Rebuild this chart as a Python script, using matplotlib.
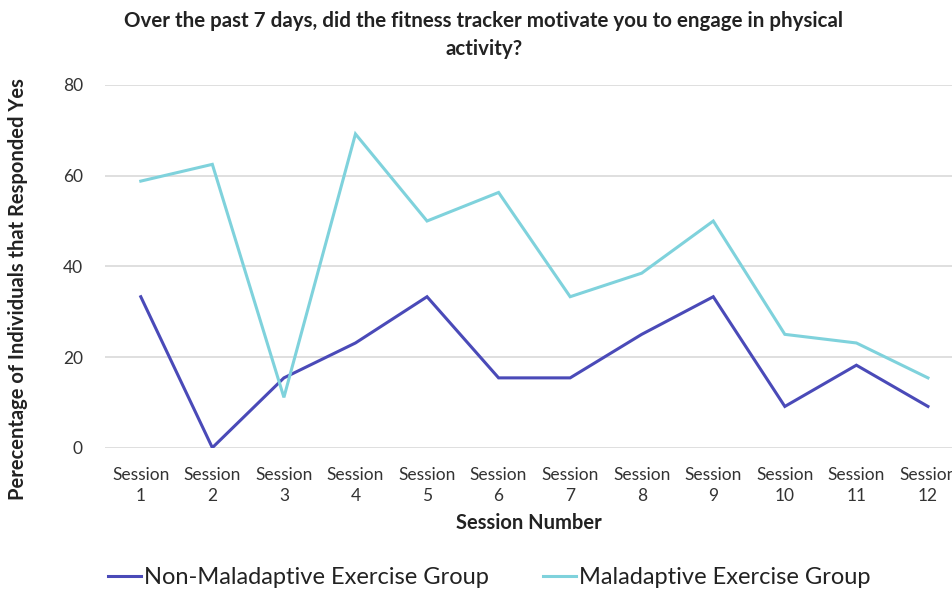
import matplotlib
matplotlib.use("Agg")
import matplotlib.pyplot as plt

sessions = [f"Session\n{i}" for i in range(1, 13)]
non_maladaptive = [33.3, 0, 15.4, 23.1, 33.3, 15.4, 15.4, 25.0, 33.3, 9.1, 18.2, 9.1]
maladaptive = [58.8, 62.5, 11.1, 69.2, 50.0, 56.3, 33.3, 38.5, 50.0, 25.0, 23.1, 15.4]
series_names = ["Non-Maladaptive Exercise Group", "Maladaptive Exercise Group"]
colors = ["#4a4ab8", "#7fd2dc"]

plt.rcParams['font.family'] = ['Lato', 'DejaVu Sans']

W, H = 953, 590
fig = plt.figure(figsize=(W / 100, H / 100), dpi=100)
left, right, top, bottom = 105, 953, 85, 447.7
ax = fig.add_axes([left / W, 1 - bottom / H, (right - left) / W, (bottom - top) / H])

x = list(range(len(sessions)))
l1, = ax.plot(x, non_maladaptive, color=colors[0], lw=2.2, solid_joinstyle='miter')
l2, = ax.plot(x, maladaptive, color=colors[1], lw=2.2, solid_joinstyle='miter')

ax.set_xlim(-0.5, 11.35)
ax.set_ylim(0, 80)
ax.set_yticks([0, 20, 40, 60, 80])
ax.yaxis.grid(True, color="#d9d9d9", lw=1.2)
ax.set_axisbelow(True)
for s in ax.spines.values():
    s.set_visible(False)
ax.tick_params(axis='both', length=0, labelsize=12.5, colors="#333333")
ax.tick_params(axis='y', pad=16)
ax.tick_params(axis='x', pad=14)
ax.set_xticks(x)
ax.set_xticklabels(sessions, linespacing=1.35, fontsize=12.5)

ax.set_xlabel("Session Number", fontsize=14.5, fontweight='bold', color="#222222")
ax.xaxis.set_label_coords(0.5, -(523 - bottom) / (bottom - top), transform=ax.transAxes)
ax.xaxis.label.set_va('center')
ax.set_ylabel("Perecentage of Individuals that Responded Yes", fontsize=14.5, fontweight='bold',
              color="#222222")
ax.yaxis.set_label_coords(-(left - 18) / (right - left), (bottom - 289) / (bottom - top))
ax.yaxis.label.set_va('center')

fig.text(484 / W, 1 - 35 / H, "Over the past 7 days, did the fitness tracker motivate you to engage in physical\nactivity?",
         ha='center', va='center', fontsize=14.8, fontweight='bold', color="#222222", linespacing=1.45)

leg = fig.legend([l1, l2], series_names, loc='center left', bbox_to_anchor=(108 / W, 1 - 578 / H),
                 ncol=2, frameon=False, fontsize=17, handlelength=1.4, handletextpad=0.13,
                 columnspacing=2.3, borderaxespad=0, borderpad=0)
for t in leg.get_texts():
    t.set_color("#222222")

fig.savefig("out.png", dpi=100)
